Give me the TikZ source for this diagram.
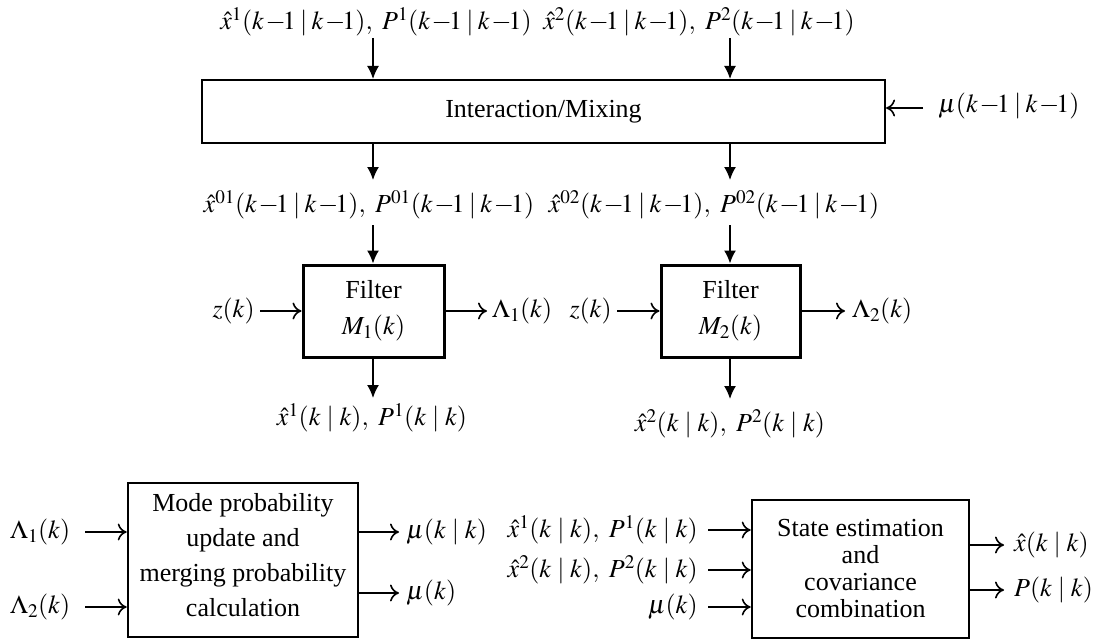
\documentclass[tikz,border=0pt]{standalone}
\usepackage{mathptmx}
\usepackage{fontspec}
\setmainfont{Liberation Serif}
\usetikzlibrary{arrows.meta}
\newcommand{\kmo}{k\mkern1mu{-}\mkern-2mu1}
\newcommand{\cnd}{\mkern4mu|\mkern4mu}
\newcommand{\cnds}{\mkern3mu|\mkern3mu}
\begin{document}
\begin{tikzpicture}[x=1pt,y=-1pt,
  font=\fontsize{26}{31}\selectfont,
  blk/.style={draw, line width=2.6pt, inner sep=0pt, align=center},
  lbl/.style={inner sep=0pt},
  varr/.style={line width=1.6pt, -{Latex[length=13pt,width=12pt]}},
  harr/.style={line width=1.6pt, -{Computer Modern Rightarrow[length=9pt,width=17pt,line width=1.6pt]}}]
\useasboundingbox (0,0) rectangle (1111,642);

% Interaction / Mixing
\node[blk, line width=2.2pt, minimum width=683pt, minimum height=63pt] (mix) at (543.5,111.5) {\raisebox{3pt}{Interaction/Mixing}};
\node[lbl] (in1) at (376,22) {$\hat{x}^1(\kmo\cnds\kmo),\ P^1(\kmo\cnds\kmo)$};
\node[lbl] (in2) at (699,22) {$\hat{x}^2(\kmo\cnds\kmo),\ P^2(\kmo\cnds\kmo)$};
\coordinate (t1) at (373,38);
\coordinate (t2) at (730,38);
\draw[varr, line width=1.2pt] (t1) -- (t1 |- mix.north);
\draw[varr, line width=1.2pt] (t2) -- (t2 |- mix.north);
\node[lbl, anchor=west] (mu0) at (938,106) {$\mu(\kmo\cnds\kmo)$};
\coordinate (m0) at (923,108);
\draw[harr, line width=1.2pt] (m0) -- (m0 -| mix.east);

% mixed estimates
\node[lbl] (mx1) at (369,205) {$\hat{x}^{01}(\kmo\cnds\kmo),\ P^{01}(\kmo\cnds\kmo)$};
\node[lbl] (mx2) at (714,205) {$\hat{x}^{02}(\kmo\cnds\kmo),\ P^{02}(\kmo\cnds\kmo)$};
\coordinate (b1) at (373,180);
\coordinate (b2) at (730,180);
\draw[varr] (b1 |- mix.south) -- (b1);
\draw[varr] (b2 |- mix.south) -- (b2);

% Filters
\node[blk, line width=3pt, minimum width=141pt, minimum height=92pt] (f1) at (373.5,311) {Filter\\[5pt]$M_1(k)$};
\node[blk, line width=3pt, minimum width=139pt, minimum height=92pt] (f2) at (730.5,311) {Filter\\[5pt]$M_2(k)$};
\coordinate (c1) at (373,225);
\coordinate (c2) at (730,225);
\draw[varr] (c1) -- (c1 |- f1.north);
\draw[varr] (c2) -- (c2 |- f2.north);

\node[lbl, anchor=east] (z1) at (255,311) {$z(k)$};
\node[lbl, anchor=east] (z2) at (612,311) {$z(k)$};
\draw[harr] (z1.east) ++(5,0) coordinate (z1e) -- (z1e -| f1.west);
\draw[harr] (z2.east) ++(5,0) coordinate (z2e) -- (z2e -| f2.west);
\node[lbl, anchor=west] (L1) at (492,311) {$\Lambda_1(k)$};
\node[lbl, anchor=west] (L2) at (852,311) {$\Lambda_2(k)$};
\draw[harr, shorten >=5pt] (f1.east) -- (L1.west);
\draw[harr, shorten >=7pt] (f2.east) -- (L2.west);

\node[lbl] (o1) at (372,418) {$\hat{x}^1(k\cnd k),\ P^1(k\cnd k)$};
\node[lbl] (o2) at (730,424) {$\hat{x}^2(k\cnd k),\ P^2(k\cnd k)$};
\coordinate (d1) at (373,398);
\coordinate (d2) at (730,399);
\draw[varr] (d1 |- f1.south) -- (d1);
\draw[varr] (d2 |- f2.south) -- (d2);

% Mode probability box
\node[blk, line width=2.6pt, minimum width=230pt, minimum height=154pt,
  font=\fontsize{26}{35}\selectfont] (mp) at (243,560)
  {Mode probability\\update and\\merging probability\\calculation\\[-25pt]\mbox{}};
\node[lbl, anchor=west] (l1) at (10,532) {$\Lambda_1(k)$};
\node[lbl, anchor=west] (l2) at (10,607) {$\Lambda_2(k)$};
\coordinate (l1e) at (85,532);
\coordinate (l2e) at (85,607);
\draw[harr] (l1e) -- (l1e -| mp.west);
\draw[harr] (l2e) -- (l2e -| mp.west);
\node[lbl, anchor=west] (mu1) at (406,532) {$\mu(k\cnd k)$};
\node[lbl, anchor=west] (mu2) at (406,593) {$\mu(k)$};
\draw[harr, shorten >=7pt] (mu1.west -| mp.east) -- (mu1.west);
\draw[harr, shorten >=7pt] (mu2.west -| mp.east) -- (mu2.west);

% State estimation box
\node[blk, line width=2.6pt, minimum width=217pt, minimum height=138pt,
  font=\fontsize{26}{27}\selectfont] (se) at (860.5,569)
  {State estimation\\and\\covariance\\combination};
\node[lbl, anchor=east] (s1) at (698,530) {$\hat{x}^1(k\cnd k),\ P^1(k\cnd k)$};
\node[lbl, anchor=east] (s2) at (698,570) {$\hat{x}^2(k\cnd k),\ P^2(k\cnd k)$};
\node[lbl, anchor=east] (s3) at (698,607) {$\mu(k)$};
\coordinate (s1e) at (708,530);
\coordinate (s2e) at (708,570);
\coordinate (s3e) at (708,607);
\draw[harr] (s1e) -- (s1e -| se.west);
\draw[harr] (s2e) -- (s2e -| se.west);
\draw[harr] (s3e) -- (s3e -| se.west);
\node[lbl, anchor=west] (xo) at (1014,545) {$\hat{x}(k\cnd k)$};
\node[lbl, anchor=west] (po) at (1014,590) {$P(k\cnd k)$};
\draw[harr, shorten >=10pt] (xo.west -| se.east) -- (xo.west);
\draw[harr, shorten >=10pt] (po.west -| se.east) -- (po.west);
\end{tikzpicture}
\end{document}
